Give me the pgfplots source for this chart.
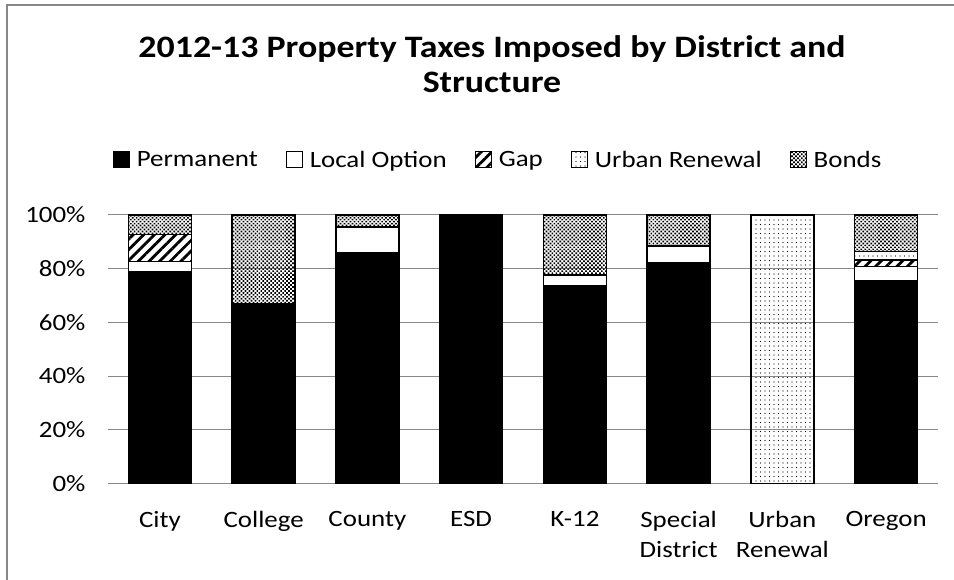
\documentclass[border=0pt]{standalone}
\usepackage{fontspec}
\setmainfont{Carlito}[FakeStretch=1.15]
\usepackage{pgfplots}
\pgfplotsset{compat=1.18}
\usetikzlibrary{patterns,patterns.meta}
\definecolor{gridgray}{HTML}{888888}
\begin{document}
\begin{tikzpicture}[x=1bp,y=1bp]
\useasboundingbox (0,0) rectangle (954,580);
\fill[white] (0,0) rectangle (954,580);
\draw[gridgray, line width=2bp] (7,0) -- (7,575) -- (954,575);
\node[align=center, font=\fontsize{31.3}{35}\selectfont\bfseries] at (492,515.5)
  {2012-13 Property Taxes Imposed by District and\\Structure};
\begin{axis}[
  at={(108bp,96.5bp)}, anchor=south west,
  scale only axis, width=830bp, height=268.5bp,
  ybar stacked, bar width=63bp,
  xmin=-0.5, xmax=7.5, ymin=0, ymax=100,
  xtick={0,...,7},
  xticklabels={City,College,County,ESD,K-12,{Special\\District},{Urban\\Renewal},Oregon},
  ytick={0,20,...,100},
  yticklabel={\pgfmathprintnumber{\tick}\%},
  /pgf/number format/assume math mode=true,
  tick style={draw=none},
  axis x line*=bottom, axis y line*=left,
  x axis line style={gridgray, line width=1.2bp, -},
  y axis line style={draw=none},
  ymajorgrids, grid style={gridgray, line width=1bp},
  ticklabel style={font=\fontsize{23.5}{30}\selectfont},
  xticklabel style={align=center, anchor=north, yshift=-24bp},
  yticklabel style={anchor=east, xshift=-19bp},
  every axis plot/.append style={draw=black, line width=1.5bp},
  legend columns=5,
  legend style={draw=none, fill=none, at={(0.47,1.205)}, anchor=center,
    font=\fontsize{23.5}{28}\selectfont,
    /tikz/every odd column/.append style={column sep=5bp},
    /tikz/every even column/.append style={column sep=26bp}},
  legend image code/.code={\draw[#1, line width=1bp] (0bp,-8bp) rectangle (16bp,8bp);},
]
\addplot[fill=black] coordinates {(0,78.9) (1,66.9) (2,85.8) (3,100) (4,73.6) (5,82.3) (6,0) (7,75.6)};
\addplot[fill=white] coordinates {(0,3.7) (1,0) (2,9.8) (3,0) (4,4.1) (5,6.2) (6,0) (7,5.2)};
\addplot[fill=white, pattern={Lines[angle=45,distance=7.5bp,line width=2.8bp]}] coordinates {(0,10.2) (1,0) (2,0) (3,0) (4,0) (5,0) (6,0) (7,2.5)};
\addplot[fill=white, pattern={Dots[distance=4.5bp,radius=0.7bp]}] coordinates {(0,0) (1,0) (2,0) (3,0) (4,0) (5,0) (6,100) (7,3.1)};
\addplot[fill=white, pattern={Dots[distance=2.8bp,radius=1.2bp,angle=45]}] coordinates {(0,7.2) (1,33.1) (2,4.4) (3,0) (4,22.3) (5,11.5) (6,0) (7,13.6)};
\legend{Permanent,Local Option,Gap,Urban Renewal,Bonds}
\end{axis}
\end{tikzpicture}
\end{document}
